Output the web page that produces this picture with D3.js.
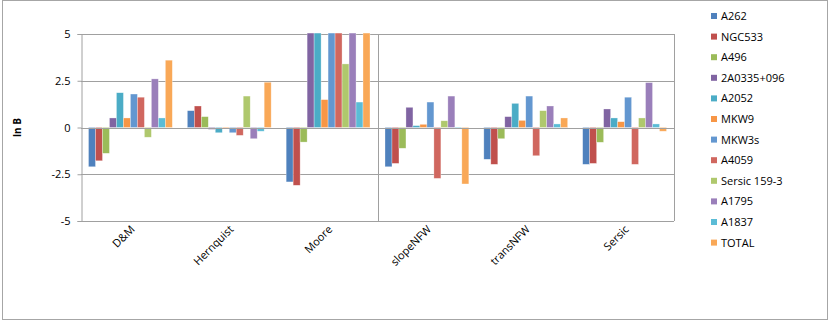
<!DOCTYPE html>
<html>
  <head>
    <style>
      body { margin: 0; background: #fff; }
      svg text { font-family: 'Open Sans', 'Liberation Sans', sans-serif; fill: #000; }
    </style>
  </head>
  <body>
    <div class="chart"></div>
    <script src="https://d3js.org/d3.v7.min.js"></script>
    <script>
      const categories = ['D&M', 'Hernquist', 'Moore', 'slopeNFW', 'transNFW', 'Sersic'];
      const seriesNames = ['A262', 'NGC533', 'A496', '2A0335+096', 'A2052', 'MKW9',
        'MKW3s', 'A4059', 'Sersic 159-3', 'A1795', 'A1837', 'TOTAL'];
      const colors = ['#4f81bd', '#c0504d', '#9bbb59', '#8064a2', '#4bacc6', '#f79646',
        '#6397d0', '#d0675f', '#afc86d', '#9a7fba', '#5bbcd6', '#f9a857'];
      // one array per series, values in category order
      const A262 = [-2.1, 0.9, -2.91, -2.1, -1.7, -1.97];
      const NGC533 = [-1.78, 1.15, -3.09, -1.92, -1.97, -1.92];
      const A496 = [-1.38, 0.58, -0.78, -1.11, -0.6, -0.79];
      const A0335 = [0.51, -0.1, 5.05, 1.08, 0.58, 0.99];
      const A2052 = [1.86, -0.28, 5.05, 0.1, 1.29, 0.51];
      const MKW9 = [0.51, -0.06, 1.49, 0.17, 0.38, 0.31];
      const MKW3s = [1.79, -0.28, 5.05, 1.36, 1.68, 1.62];
      const A4059 = [1.62, -0.42, 5.05, -2.72, -1.51, -1.97];
      const Sersic159 = [-0.52, 1.68, 3.4, 0.36, 0.9, 0.51];
      const A1795 = [2.6, -0.6, 5.05, 1.68, 1.15, 2.4];
      const A1837 = [0.51, -0.2, 1.36, -0.06, 0.19, 0.19];
      const TOTAL = [3.6, 2.42, 5.05, -3.02, 0.51, -0.2];
      const seriesValues = [A262, NGC533, A496, A0335, A2052, MKW9, MKW3s, A4059, Sersic159, A1795, A1837, TOTAL];
      const yTicks = [-5, -2.5, 0, 2.5, 5];

      const width = 830, height = 321;
      const plot = { left: 81, right: 674, top: 34, bottom: 221 };

      const svg = d3.select('.chart').append('svg')
        .attr('width', width).attr('height', height);

      // outer chart border
      svg.append('rect')
        .attr('x', 2.5).attr('y', 0.5).attr('width', 825).attr('height', 319)
        .attr('fill', 'none').attr('stroke', '#a6a6a6');

      const x0 = d3.scaleBand().domain(categories).range([plot.left, plot.right]).paddingInner(0).paddingOuter(0);
      const x1 = d3.scaleBand().domain(seriesNames).range([7.5, x0.bandwidth() - 7.5]).padding(0);
      const y = d3.scaleLinear().domain([-5, 5]).range([plot.bottom, plot.top]);

      // gridlines
      svg.append('g').selectAll('line').data(yTicks).join('line')
        .attr('x1', plot.left).attr('x2', plot.right)
        .attr('y1', d => Math.round(y(d)) + 0.5).attr('y2', d => Math.round(y(d)) + 0.5)
        .attr('stroke', '#a0a0a0').attr('stroke-width', 1);

      // plot border right + middle divider
      svg.append('line')
        .attr('x1', plot.right + 0.5).attr('x2', plot.right + 0.5)
        .attr('y1', plot.top).attr('y2', plot.bottom)
        .attr('stroke', '#a0a0a0');
      const mid = Math.round(x0('slopeNFW')) + 0.5;
      svg.append('line')
        .attr('x1', mid).attr('x2', mid)
        .attr('y1', plot.top).attr('y2', plot.bottom)
        .attr('stroke', '#a0a0a0');

      // bars
      const groups = svg.append('g').selectAll('g').data(categories).join('g')
        .attr('transform', d => `translate(${x0(d)},0)`);
      groups.selectAll('rect')
        .data((c, ci) => seriesNames.map((s, si) => ({ s, si, v: seriesValues[si][ci] })))
        .join('rect')
        .attr('x', d => x1(d.s))
        .attr('width', x1.bandwidth())
        .attr('y', d => y(Math.max(0, d.v)))
        .attr('height', d => Math.abs(y(d.v) - y(0)))
        .attr('fill', d => colors[d.si])
        .attr('stroke', '#fff').attr('stroke-opacity', 0.5).attr('stroke-width', 0.6);

      // y axis
      const axisY = d3.axisLeft(y).tickValues(yTicks).tickSize(4).tickFormat(d => d);
      svg.append('g')
        .attr('transform', `translate(${plot.left + 0.5},0)`)
        .call(axisY)
        .call(g => g.select('.domain').attr('stroke', '#a0a0a0'))
        .call(g => g.selectAll('.tick line').attr('stroke', '#a0a0a0'))
        .call(g => g.selectAll('.tick text').attr('x', -11).attr('font-size', 11)
          .style('font-family', "'Open Sans', sans-serif"));

      // zero line on top of bars
      svg.append('line')
        .attr('x1', plot.left).attr('x2', plot.right)
        .attr('y1', Math.round(y(0)) + 0.5).attr('y2', Math.round(y(0)) + 0.5)
        .attr('stroke', '#a0a0a0');

      // y label
      svg.append('text')
        .attr('transform', `translate(21,${y(0)}) rotate(-90)`)
        .attr('text-anchor', 'middle')
        .attr('font-size', 10).attr('font-weight', 'bold')
        .text('ln B');

      // category labels
      svg.append('g').selectAll('text').data(categories).join('text')
        .attr('transform', d => `translate(${x0(d) + x0.bandwidth() / 2 + 5},${plot.bottom + 9}) rotate(-45)`)
        .attr('text-anchor', 'end')
        .attr('font-size', 11)
        .text(d => d);

      // legend
      const legend = svg.append('g').selectAll('g').data(seriesNames).join('g')
        .attr('transform', (d, i) => `translate(711,${16 + i * 20.6})`);
      legend.append('rect')
        .attr('x', 0).attr('y', -3).attr('width', 6).attr('height', 6)
        .attr('fill', (d, i) => colors[i]);
      legend.append('text')
        .attr('x', 10).attr('y', 4)
        .attr('font-size', 11)
        .text(d => d);
    </script>
  </body>
</html>
